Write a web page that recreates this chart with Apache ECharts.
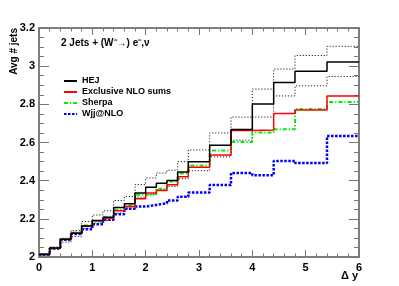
<!DOCTYPE html>
<html><head><meta charset="utf-8">
<script src="https://cdn.jsdelivr.net/npm/echarts@6/dist/echarts.min.js"></script>
<style>html,body{margin:0;padding:0;background:#fff}#c{width:399px;height:286px}</style>
</head><body><div id="c"></div>
<script>
const edges = [0,0.2,0.4,0.6,0.8,1.0,1.2,1.4,1.6,1.8,2.0,2.2,2.4,2.6,2.8,3.2,3.6,4.0,4.4,4.8,5.4,6.0];
const hej    = [2.014,2.047,2.093,2.124,2.163,2.191,2.208,2.259,2.279,2.335,2.366,2.387,2.401,2.445,2.499,2.585,2.668,2.802,2.914,2.973,3.022];
const hejUp  = [2.017,2.052,2.098,2.139,2.186,2.220,2.242,2.296,2.317,2.380,2.414,2.440,2.455,2.500,2.561,2.650,2.733,2.880,2.985,3.056,3.104];
const hejLow = [2.011,2.042,2.078,2.107,2.151,2.177,2.191,2.230,2.256,2.313,2.326,2.352,2.370,2.410,2.452,2.525,2.612,2.733,2.844,2.897,2.946];
const nlo    = [2.013,2.046,2.092,2.126,2.163,2.190,2.203,2.242,2.265,2.305,2.335,2.349,2.378,2.420,2.470,2.534,2.663,2.666,2.752,2.770,2.844];
const sherpa = [2.015,2.048,2.094,2.128,2.165,2.186,2.208,2.247,2.270,2.326,2.330,2.358,2.396,2.438,2.479,2.558,2.602,2.653,2.670,2.776,2.812];
const wjj    = [2.012,2.044,2.090,2.120,2.145,2.172,2.195,2.224,2.253,2.264,2.273,2.282,2.296,2.316,2.338,2.377,2.440,2.429,2.503,2.492,2.634];
const xTicks = [0,1,2,3,4,5,6];
const yTicks = [2,2.2,2.4,2.6,2.8,3,3.2];

function stepData(vals){
  const d = vals.map((v,i)=>[edges[i], v]);
  d.push([edges[edges.length-1], vals[vals.length-1]]);
  return d;
}
const FONT = 'Liberation Sans';
const chart = echarts.init(document.getElementById('c'), null, {renderer:'canvas'});
function line(name, vals, color, width, type, z){
  return {name, type:'line', step:'end', data:stepData(vals), symbol:'none', showSymbol:false,
    lineStyle:{color, width, type}, itemStyle:{color}, z:z||2, animation:false, silent:true};
}
chart.setOption({
  animation:false,
  grid:{left:39, right:40, top:28, bottom:29, show:true, borderColor:'#777', borderWidth:1.5, backgroundColor:'transparent'},
  legend:{
    data:['HEJ','Exclusive NLO sums','Sherpa','Wjj@NLO'],
    orient:'vertical', left:58, top:71, itemWidth:13, itemHeight:10, itemGap:1,
    itemStyle:{opacity:0},
    textStyle:{fontFamily:FONT, fontWeight:'bold', fontSize:9, color:'#000', lineHeight:10},
    selectedMode:false
  },
  xAxis:[{
    type:'value', min:0, max:6, interval:1, position:'bottom',
    axisLine:{show:true, onZero:false, lineStyle:{color:'#777', width:1.5}},
    axisTick:{inside:true, length:7, lineStyle:{color:'#777'}},
    minorTick:{show:true, splitNumber:5, length:3.5, lineStyle:{color:'#777'}},
    splitLine:{show:false},
    axisLabel:{margin:5, fontFamily:FONT, fontWeight:'bold', fontSize:11, color:'#000',
      formatter:v=>xTicks.includes(v)?String(v):''}
  },{
    type:'value', min:0, max:6, interval:1, position:'top',
    axisLine:{show:true, onZero:false, lineStyle:{color:'#777', width:1.5}},
    axisTick:{inside:true, length:7, lineStyle:{color:'#777'}},
    minorTick:{show:true, splitNumber:5, length:3.5, lineStyle:{color:'#777'}},
    splitLine:{show:false}, axisLabel:{show:false}
  }],
  yAxis:[{
    type:'value', min:2, max:3.2, interval:0.2, position:'left',
    axisLine:{show:true, onZero:false, lineStyle:{color:'#777', width:1.5}},
    axisTick:{inside:true, length:10, lineStyle:{color:'#777'}},
    minorTick:{show:true, splitNumber:4, length:5, lineStyle:{color:'#777'}},
    splitLine:{show:false},
    axisLabel:{margin:4, fontFamily:FONT, fontWeight:'bold', fontSize:11, color:'#000',
      formatter:v=>{const r=Math.round(v*10)/10; return yTicks.includes(r)?String(r):'';}}
  },{
    type:'value', min:2, max:3.2, interval:0.2, position:'right',
    axisLine:{show:true, onZero:false, lineStyle:{color:'#777', width:1.5}},
    axisTick:{inside:true, length:10, lineStyle:{color:'#777'}},
    minorTick:{show:true, splitNumber:4, length:5, lineStyle:{color:'#777'}},
    splitLine:{show:false}, axisLabel:{show:false}
  }],
  series:[
    line('HEJ up', hejUp, '#222', 1, [1.2,1.8], 1),
    line('HEJ low', hejLow, '#222', 1, [1.2,1.8], 1),
    line('Wjj@NLO', wjj, '#0000ff', 2.5, [2.5,1.5], 2),
    line('Sherpa', sherpa, '#00ee00', 2, [4,2,1.2,2], 3),
    line('Exclusive NLO sums', nlo, '#ff0000', 1.5, 'solid', 4),
    line('HEJ', hej, '#000000', 1.5, 'solid', 5)
  ],
  graphic:[
    {type:'text', x:61, y:43, style:{text:'2 Jets + (W\u207B\u2192) e\u207B,\u03BD', font:'bold 10px "Liberation Sans"', fill:'#000', verticalAlign:'middle', align:'left'}},
    {type:'text', x:14, y:28, rotation:Math.PI/2, style:{text:'Avg # jets', font:'bold 10px "Liberation Sans"', fill:'#000', verticalAlign:'middle', align:'right'}},
    {type:'text', x:358, y:276, style:{text:'\u0394 y', font:'bold 11px "Liberation Sans"', fill:'#000', verticalAlign:'middle', align:'right'}}
  ]
});
</script></body></html>
